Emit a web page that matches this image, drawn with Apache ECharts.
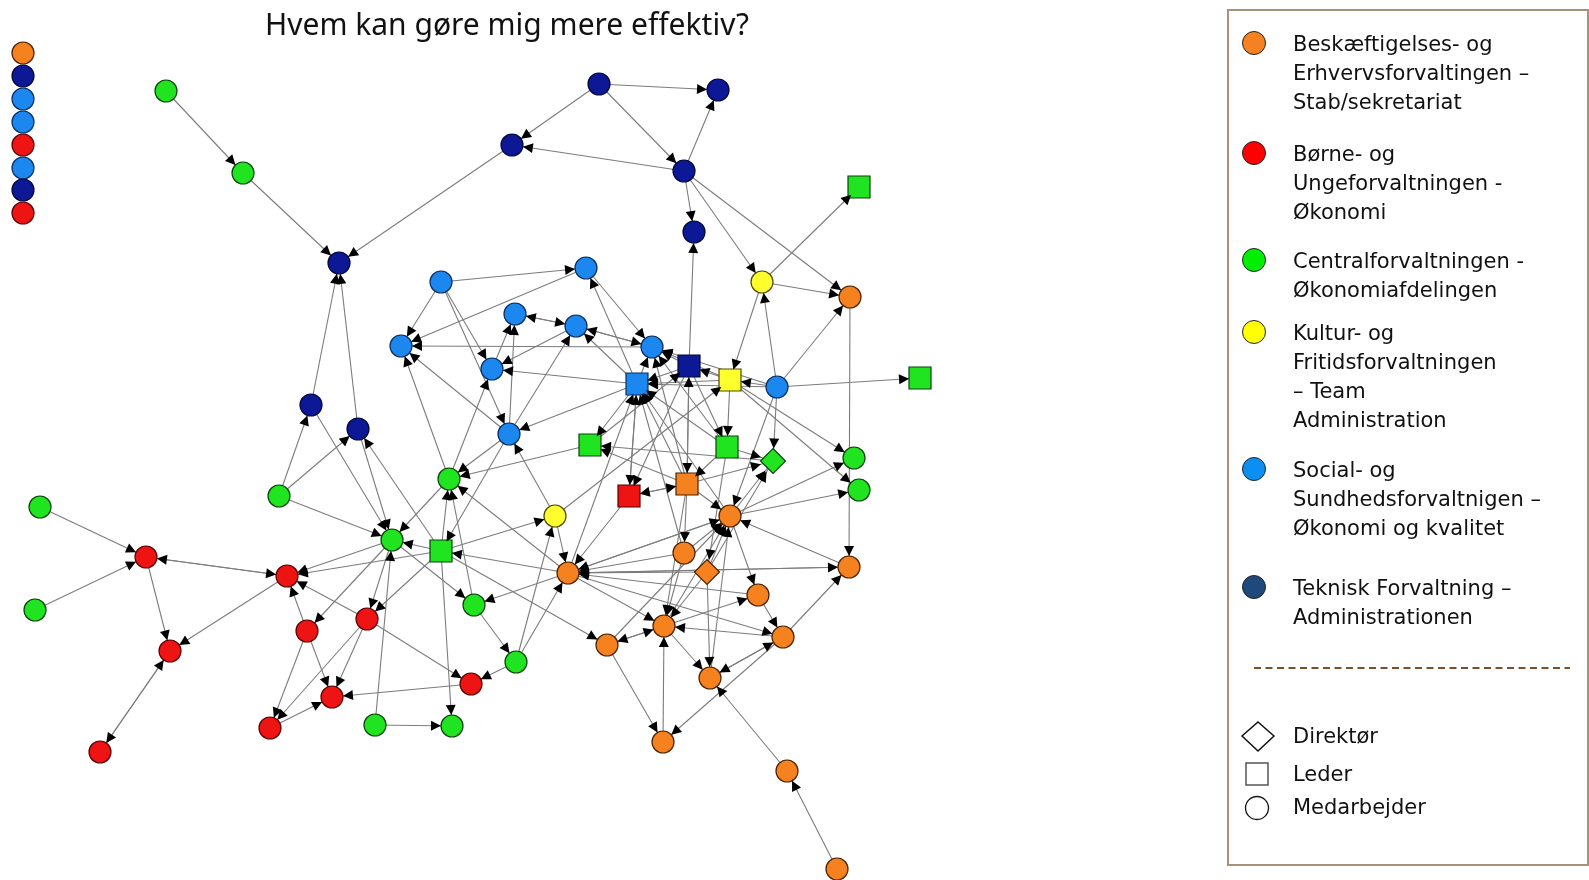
<!DOCTYPE html>
<html>
<head>
    <meta charset="utf-8" />
    <title>Hvem kan gøre mig mere effektiv?</title>
    <script type="text/javascript" src="https://cdn.jsdelivr.net/npm/echarts@6/dist/echarts.min.js"></script>
    <style>
        html, body { margin: 0; padding: 0; background: #fff; }
        #main { width: 1589px; height: 880px; }
    </style>
</head>
<body>
    <div id="main"></div>
    <script type="text/javascript">
        // afdelinger (legend) - index bruges i nodeDept
        var deptLabels = [
            ["Beskæftigelses- og", "Erhvervsforvaltingen –", "Stab/sekretariat"],
            ["Børne- og", "Ungeforvaltningen -", "Økonomi"],
            ["Centralforvaltningen -", "Økonomiafdelingen"],
            ["Kultur- og", "Fritidsforvaltningen", "– Team", "Administration"],
            ["Social- og", "Sundhedsforvaltnigen –", "Økonomi og kvalitet"],
            ["Teknisk Forvaltning –", "Administrationen"]
        ];
        var roleLabels = ["Direktør", "Leder", "Medarbejder"];

        // noder: navn, placering i tegningen, afdeling, rolle (d = direktør, l = leder, m = medarbejder)
        var nodeNames = ["I1", "I2", "I3", "I4", "I5", "I6", "I7", "I8",
            "N1", "N2", "N3", "N4", "N5", "N6", "N7", "N8", "NS",
            "B1", "B2", "B3", "B4", "B5", "B6", "B7", "B8", "B9", "BS",
            "G1", "G2", "G3", "G4", "G5", "G6", "G7", "G8", "G9", "G10", "G11", "G12", "G13",
            "GS1", "GS2", "GS3", "GS4", "GS5", "GD",
            "Y1", "Y2", "YS",
            "O1", "O2", "O3", "O4", "O5", "O6", "O7", "O8", "O9", "O10", "O11", "O12", "O13", "OS", "OD",
            "R1", "R2", "R3", "R4", "R5", "R6", "R7", "R8", "R9", "RS"];
        var nodeX = [23, 23, 23, 23, 23, 23, 23, 23,
            599, 512, 339, 718, 684, 694, 311, 358, 689,
            441, 586, 515, 576, 401, 492, 509, 652, 777, 637,
            166, 243, 279, 40, 35, 449, 392, 474, 854, 859, 516, 375, 452,
            859, 590, 441, 920, 727, 773,
            762, 555, 730,
            850, 568, 730, 684, 849, 758, 607, 664, 783, 710, 663, 787, 837, 687, 707,
            146, 287, 367, 170, 100, 307, 270, 471, 332, 629];
        var nodeY = [53, 76, 99, 122, 145, 168, 190, 213,
            84, 145, 263, 90, 171, 232, 405, 429, 366,
            282, 268, 314, 326, 346, 369, 434, 347, 387, 384,
            91, 173, 496, 507, 610, 479, 540, 605, 458, 490, 662, 725, 726,
            187, 445, 551, 378, 447, 461,
            282, 516, 380,
            297, 573, 516, 553, 567, 595, 645, 626, 637, 678, 742, 771, 869, 484, 572,
            557, 576, 619, 651, 752, 631, 728, 684, 697, 496];
        var nodeDept = [0, 5, 4, 4, 1, 4, 5, 1,
            5, 5, 5, 5, 5, 5, 5, 5, 5,
            4, 4, 4, 4, 4, 4, 4, 4, 4, 4,
            2, 2, 2, 2, 2, 2, 2, 2, 2, 2, 2, 2, 2,
            2, 2, 2, 2, 2, 2,
            3, 3, 3,
            0, 0, 0, 0, 0, 0, 0, 0, 0, 0, 0, 0, 0, 0, 0,
            1, 1, 1, 1, 1, 1, 1, 1, 1, 1];
        var nodeRole = ["m", "m", "m", "m", "m", "m", "m", "m",
            "m", "m", "m", "m", "m", "m", "m", "m", "l",
            "m", "m", "m", "m", "m", "m", "m", "m", "m", "l",
            "m", "m", "m", "m", "m", "m", "m", "m", "m", "m", "m", "m", "m",
            "l", "l", "l", "l", "l", "d",
            "m", "m", "l",
            "m", "m", "m", "m", "m", "m", "m", "m", "m", "m", "m", "m", "m", "l", "d",
            "m", "m", "m", "m", "m", "m", "m", "m", "m", "l"];

        // hvem peger på hvem (fra -> til)
        var edges = [
            ["G1", "G2"], ["G2", "N3"], ["N2", "N3"], ["N1", "N2"], ["N5", "N2"], ["N1", "N4"], ["N1", "N5"], ["N5", "N4"],
            ["N5", "N6"], ["N5", "Y1"], ["N5", "O1"], ["Y1", "GS1"], ["Y1", "O1"], ["B9", "O1"], ["O1", "O5"], ["NS", "N6"],
            ["B9", "Y1"], ["Y1", "YS"],
            ["N7", "N3"], ["N8", "N3"], ["G3", "N7"], ["G3", "N8"], ["G3", "G7"], ["N7", "G7"], ["N8", "G7"], ["GS3", "N8"],
            ["B1", "B2"], ["B1", "B5"], ["B1", "B6"], ["B1", "B7"], ["B2", "B5"], ["BS", "B2"], ["B3", "B4"], ["B4", "B3"],
            ["B8", "B5"], ["BS", "B6"], ["B4", "B6"], ["B7", "B5"], ["G6", "B5"], ["G6", "B6"], ["B7", "G6"], ["GS2", "G6"],
            ["GS3", "G6"], ["G8", "G6"], ["O2", "G6"], ["B7", "GS3"], ["Y2", "B7"], ["BS", "B7"], ["B8", "B4"], ["BS", "B4"],
            ["B7", "B4"], ["B6", "B3"], ["B7", "B3"], ["B2", "B8"], ["B4", "B8"],
            ["NS", "B8"], ["YS", "B8"], ["B9", "B8"], ["BS", "B8"], ["GS5", "B8"], ["OS", "B8"],
            ["NS", "BS"], ["YS", "BS"], ["B9", "BS"], ["GS5", "BS"], ["OS", "BS"], ["O2", "BS"], ["O4", "BS"], ["O3", "BS"],
            ["BS", "RS"], ["RS", "BS"], ["BS", "GS2"], ["GS2", "NS"],
            ["B9", "GS4"], ["B9", "GD"], ["B9", "O3"], ["YS", "NS"], ["B9", "YS"], ["YS", "GS5"], ["YS", "G9"], ["YS", "G10"],
            ["NS", "GS5"], ["NS", "OS"], ["OS", "NS"], ["GS5", "GD"], ["GS5", "OS"], ["OS", "RS"], ["RS", "OS"], ["OS", "GD"],
            ["OS", "O4"], ["OS", "O3"], ["O3", "GD"], ["O3", "G9"], ["O3", "G10"], ["O5", "O3"], ["O3", "O6"], ["O4", "O3"],
            ["OD", "O3"], ["O8", "O3"], ["O10", "O3"], ["O7", "O3"], ["GD", "GS2"], ["OS", "GS2"], ["NS", "RS"], ["RS", "O2"],
            ["Y2", "YS"], ["O4", "O2"], ["O4", "O8"], ["OD", "O8"], ["OS", "O8"], ["GS5", "OD"], ["O5", "O2"], ["OD", "O2"],
            ["O3", "O2"], ["O6", "O2"], ["OD", "GD"], ["O2", "O5"], ["O2", "O3"], ["O2", "O8"], ["O9", "O5"], ["O2", "O9"],
            ["O6", "O9"], ["O9", "O8"], ["O8", "O6"], ["O8", "O7"], ["O7", "O8"], ["O8", "O10"], ["O10", "O9"], ["O9", "O10"],
            ["O11", "O8"], ["O7", "O11"], ["O9", "O11"], ["O12", "O10"], ["O13", "O12"], ["OD", "O10"], ["GS3", "O7"],
            ["G4", "R1"], ["G5", "R1"], ["R2", "R1"], ["R1", "R2"], ["R1", "R4"], ["R2", "R4"], ["R4", "R5"], ["R5", "R4"],
            ["R6", "R2"], ["G7", "R2"], ["R3", "R2"], ["R6", "R7"], ["R6", "R9"], ["R7", "R9"], ["R3", "R7"], ["R3", "R9"],
            ["R8", "R9"], ["R3", "R8"], ["G11", "R8"], ["G12", "G13"], ["GS3", "G13"], ["G7", "R6"], ["G7", "R3"], ["GS3", "R3"],
            ["G12", "G7"], ["G7", "G8"], ["G8", "G11"], ["G11", "O2"], ["G11", "Y2"], ["GS3", "Y2"], ["O2", "G8"], ["O2", "GS3"],
            ["GS3", "G7"], ["G6", "G7"], ["GS3", "R2"], ["Y2", "O2"]
        ];

        var nodeFill = ['#f5821f', '#ee1414', '#20e420', '#ffff2e', '#1c87ee', '#0c1896'];
        var nodeBorder = ['#4a2200', '#5a0000', '#0a420a', '#4a4a00', '#082e62', '#020838'];
        var legendFill = ['#f58220', '#ff0000', '#00ee00', '#ffff00', '#0b8ff2', '#1f497d'];
        var shapeOf = { m: 'circle', l: 'rect', d: 'diamond' };
        var sizeOf = { m: 22, l: 22, d: 25 };
        var arrowSize = 10;

        // extra = ekstra størrelse på usynlige noder, så pilespidsen ender ved kanten
        function buildNodes(visible, extra) {
            var list = [];
            for (var i = 0; i < nodeNames.length; i++) {
                list.push({
                    name: nodeNames[i],
                    value: [nodeX[i], nodeY[i]],
                    symbol: shapeOf[nodeRole[i]],
                    symbolSize: sizeOf[nodeRole[i]] + extra,
                    itemStyle: {
                        color: nodeFill[nodeDept[i]],
                        borderColor: nodeBorder[nodeDept[i]],
                        borderWidth: 1.2,
                        opacity: visible ? 1 : 0
                    }
                });
            }
            return list;
        }
        var links = edges.map(function (e) { return { source: e[0], target: e[1] }; });

        // legend tegnes som grafik
        var graphics = [];
        graphics.push({
            type: 'text', x: 507, y: 26, silent: true,
            style: { text: 'Hvem kan gøre mig mere effektiv?', fill: '#111', font: '30px "Noto Sans"', textAlign: 'center', textVerticalAlign: 'middle' }
        });
        graphics.push({
            type: 'rect', silent: true,
            shape: { x: 1228, y: 10, width: 360, height: 855 },
            style: { fill: '#fff', stroke: '#a8927a', lineWidth: 2 }
        });
        var dotY = [43, 153, 260, 332, 469, 587];
        var lineGap = 28.7;
        for (var d = 0; d < deptLabels.length; d++) {
            graphics.push({
                type: 'circle', silent: true,
                shape: { cx: 1254, cy: dotY[d], r: 11.5 },
                style: { fill: legendFill[d], stroke: '#222', lineWidth: 1 }
            });
            for (var k = 0; k < deptLabels[d].length; k++) {
                graphics.push({
                    type: 'text', x: 1293, y: dotY[d] + 3 + k * lineGap, silent: true,
                    style: { text: deptLabels[d][k], fill: '#111', font: '21px "DejaVu Sans"', textVerticalAlign: 'middle' }
                });
            }
        }
        graphics.push({
            type: 'line', silent: true,
            shape: { x1: 1254, y1: 668, x2: 1570, y2: 668 },
            style: { stroke: '#7d4f27', lineWidth: 2, lineDash: [7, 4.5] }
        });
        graphics.push({
            type: 'polygon', silent: true,
            shape: { points: [[1258, 722], [1274, 736], [1258, 751], [1242, 736]] },
            style: { fill: 'none', stroke: '#111', lineWidth: 1.5 }
        });
        graphics.push({
            type: 'rect', silent: true,
            shape: { x: 1246, y: 763, width: 22, height: 22 },
            style: { fill: 'none', stroke: '#555', lineWidth: 1.5 }
        });
        graphics.push({
            type: 'circle', silent: true,
            shape: { cx: 1257, cy: 808, r: 11.5 },
            style: { fill: 'none', stroke: '#111', lineWidth: 1.3 }
        });
        var roleY = [738, 776, 809];
        for (var r = 0; r < roleLabels.length; r++) {
            graphics.push({
                type: 'text', x: 1293, y: roleY[r], silent: true,
                style: { text: roleLabels[r], fill: '#111', font: '21px "DejaVu Sans"', textVerticalAlign: 'middle' }
            });
        }

        var myChart = echarts.init(document.getElementById('main'));
        var option = {
            backgroundColor: '#fff',
            animation: false,
            grid: { left: 0, right: 0, top: 0, bottom: 0 },
            xAxis: { type: 'value', min: 0, max: 1589, show: false },
            yAxis: { type: 'value', min: 0, max: 880, inverse: true, show: false },
            graphic: graphics,
            series: [
                {
                    // grå linjer + noder
                    type: 'graph',
                    coordinateSystem: 'cartesian2d',
                    silent: true,
                    data: buildNodes(true, 0),
                    links: links,
                    edgeSymbol: ['none', 'none'],
                    lineStyle: { color: '#7c7c7c', width: 1.1, opacity: 1, curveness: 0 },
                    label: { show: false },
                    z: 2
                },
                {
                    // sorte pilespidser
                    type: 'graph',
                    coordinateSystem: 'cartesian2d',
                    silent: true,
                    data: buildNodes(false, arrowSize),
                    links: links,
                    edgeSymbol: ['none', 'triangle'],
                    edgeSymbolSize: arrowSize,
                    lineStyle: { color: '#000', width: 0, opacity: 1, curveness: 0 },
                    label: { show: false },
                    z: 3
                }
            ]
        };
        myChart.setOption(option);
    </script>
</body>
</html>
